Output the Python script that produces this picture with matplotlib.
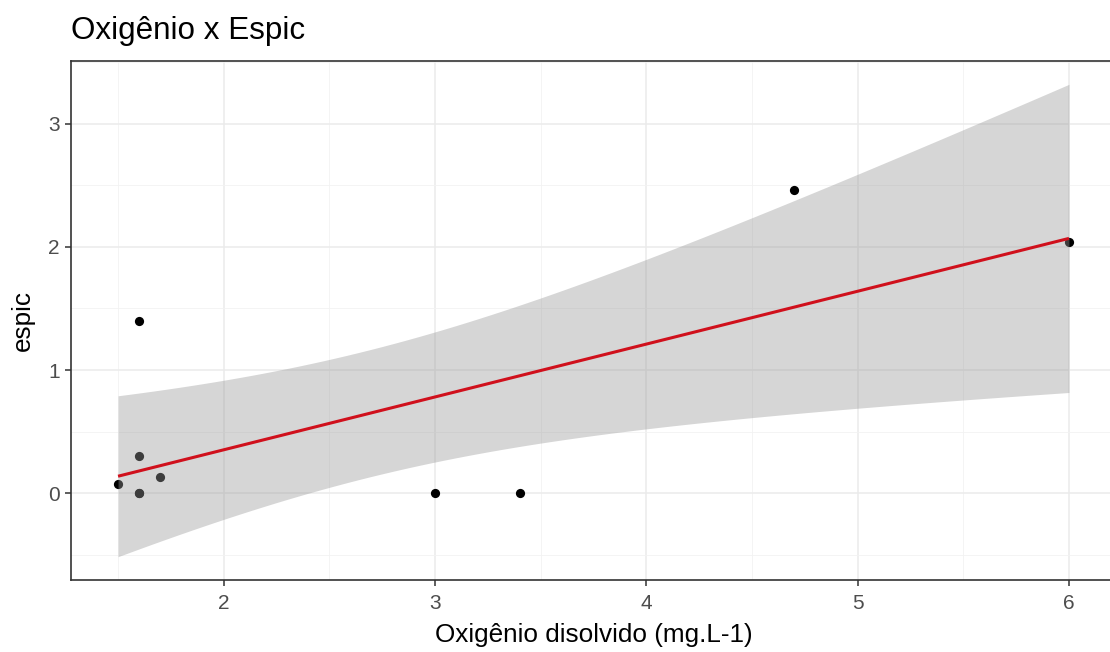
import numpy as np
import matplotlib
matplotlib.use("Agg")
import matplotlib.pyplot as plt
from matplotlib.ticker import MultipleLocator

plt.rcParams['font.family'] = ['Liberation Sans', 'DejaVu Sans']

# dissolved oxygen vs espic (two samples share 1.6 / 0)
oxigenio = np.array([1.5, 1.6, 1.6, 1.6, 1.6, 1.7, 3.0, 3.4, 4.7, 6.0])
espic = np.array([0.08, 1.40, 0.30, 0.0, 0.0, 0.13, 0.0, 0.0, 2.46, 2.04])

# least squares fit with 95% confidence band (like geom_smooth(method="lm"))
n = len(oxigenio)
xm, ym = oxigenio.mean(), espic.mean()
sxx = ((oxigenio - xm) ** 2).sum()
slope = ((oxigenio - xm) * (espic - ym)).sum() / sxx
icpt = ym - slope * xm
resid = espic - (icpt + slope * oxigenio)
s = np.sqrt((resid ** 2).sum() / (n - 2))
t975 = 2.306004  # qt(0.975, df=8)

xs = np.linspace(oxigenio.min(), oxigenio.max(), 80)
fit = icpt + slope * xs
half = t975 * s * np.sqrt(1.0 / n + (xs - xm) ** 2 / sxx)
lo, hi = fit - half, fit + half

W, H = 1110, 652
fig = plt.figure(figsize=(W / 100, H / 100), dpi=100)
# panel runs a little past the right edge of the image
ax = fig.add_axes([70.5 / W, (H - 580.3) / H, 1046 / W, 519.6 / H])

ax.scatter(oxigenio, espic, s=44, color='black', linewidths=0, zorder=2)
ax.fill_between(xs, lo, hi, color='#999999', alpha=0.4, linewidth=0, zorder=3)
ax.plot(xs, fit, color='#D0101C', lw=2.2, zorder=4, solid_capstyle='butt')

xr = oxigenio.max() - oxigenio.min()
ax.set_xlim(oxigenio.min() - 0.05 * xr, oxigenio.max() + 0.05 * xr)
yr = hi.max() - lo.min()
ax.set_ylim(lo.min() - 0.05 * yr, hi.max() + 0.05 * yr)

ax.xaxis.set_major_locator(MultipleLocator(1))
ax.xaxis.set_minor_locator(MultipleLocator(0.5))
ax.yaxis.set_major_locator(MultipleLocator(1))
ax.yaxis.set_minor_locator(MultipleLocator(0.5))

ax.grid(which='major', color='#EBEBEB', lw=1.1, zorder=0)
ax.grid(which='minor', color='#F2F2F2', lw=0.6, zorder=0)
ax.set_axisbelow(True)

for sp in ax.spines.values():
    sp.set_color('#333333')
    sp.set_linewidth(1.2)

ax.tick_params(which='major', length=4.3, width=1.1, color='#333333',
               labelcolor='#4D4D4D', labelsize=15, pad=3.5)
ax.tick_params(axis='x', which='major', pad=5.5)
ax.tick_params(which='minor', length=0)

ax.set_xlabel('Oxigênio disolvido (mg.L-1)', fontsize=18.8, color='black', labelpad=7)
ax.set_ylabel('espic', fontsize=18.8, color='black')
ax.yaxis.set_label_coords((35 - 70.5) / 1046, 0.5)

fig.text(71 / W, 1 - 39.5 / H, 'Oxigênio x Espic', fontsize=22.6, color='black',
         ha='left', va='baseline')

fig.savefig('out.png', dpi=100, facecolor='white')
